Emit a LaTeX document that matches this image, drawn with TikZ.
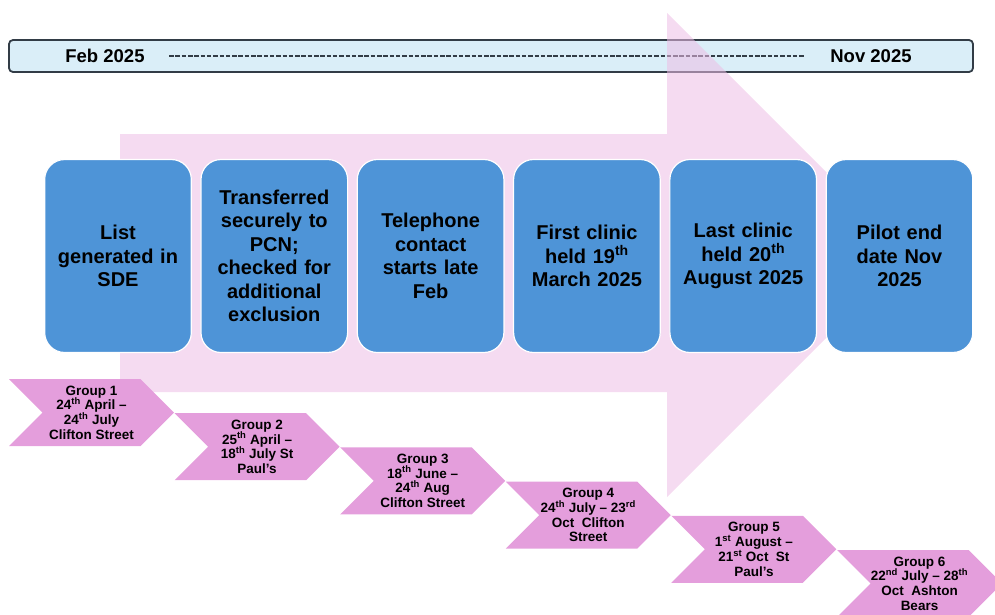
\documentclass[tikz,border=0pt]{standalone}
\usepackage{fontspec}
\setmainfont{Liberation Sans}
\usetikzlibrary{shapes.symbols}

\definecolor{barblue}{RGB}{218,238,248}
\definecolor{barline}{RGB}{50,60,70}
\definecolor{arrowpink}{RGB}{237,189,229}
\definecolor{stepblue}{RGB}{78,148,215}
\definecolor{grouppink}{RGB}{228,158,220}

\newcommand{\ordsup}[1]{\smash{\textsuperscript{#1}}}

\begin{document}
\begin{tikzpicture}[x=1pt,y=-1pt,
    stepbox/.style={fill=stepblue, draw=white, line width=1.2pt, rounded corners=20pt,
      minimum width=146pt, minimum height=193pt, text width=140pt, align=center,
      font=\fontsize{20}{23.5}\selectfont\bfseries},
    groupbox/.style={signal, signal from=west, signal to=east, signal pointer angle=90,
      fill=grouppink, minimum width=165pt, minimum height=67pt, inner sep=0pt,
      align=center, font=\fontsize{13.5}{14.7}\selectfont\bfseries},
    datetext/.style={font=\fontsize{18.5}{20}\selectfont\bfseries}]
        \useasboundingbox (0,0) rectangle (995,614);
        \clip (0,0) rectangle (995,614);
        % timeline bar
        \draw[barline, fill=barblue, line width=1.8pt, rounded corners=4pt] (9,40) rectangle (973,72);
        \node[datetext](feb) at (105,56) {Feb 2025};
        \node[datetext](nov) at (871,56) {Nov 2025};
        \draw[barline, line width=2.6pt, dash pattern=on 4.5pt off 1.8pt, shorten <=21pt, shorten >=22pt](feb.east)--(nov.west);
        % big arrow
        \fill[arrowpink, fill opacity=0.55] (120,134) -- (667,134) -- (667,13) -- (909,255)
            -- (667,497) -- (667,392) -- (120,392) -- cycle;
        % steps
        \node[stepbox](list) at (118,256) {List\\generated in\\SDE};
        \node[stepbox](transfer) at (274.3,256) {Transferred\\securely to\\PCN;\\checked for\\additional\\exclusion};
        \node[stepbox](phone) at (430.6,256) {Telephone\\contact\\starts late\\Feb};
        \node[stepbox](first) at (586.9,256) {First clinic\\held 19\ordsup{th}\\March 2025};
        \node[stepbox](last) at (743.2,256) {Last clinic\\held 20\ordsup{th}\\August 2025};
        \node[stepbox](pilot) at (899.5,256) {Pilot end\\date Nov\\2025};
        % groups
        \node[groupbox](g1) at (91.5,412.5) {Group 1\\24\ordsup{th} April –\\24\ordsup{th} July\\Clifton Street};
        \node[groupbox](g2) at (257.1,446.7) {Group 2\\25\ordsup{th} April –\\18\ordsup{th} July St\\Paul’s};
        \node[groupbox](g3) at (422.7,480.9) {Group 3\\18\ordsup{th} June –\\24\ordsup{th} Aug\\Clifton Street};
        \node[groupbox](g4) at (588.3,515.1) {Group 4\\24\ordsup{th} July – 23\ordsup{rd}\\Oct\ \ Clifton\\Street};
        \node[groupbox](g5) at (753.9,549.3) {Group 5\\1\ordsup{st} August –\\21\ordsup{st} Oct\ \ St\\Paul’s};
        \node[groupbox](g6) at (919.5,583.5) {Group 6\\22\ordsup{nd} July – 28\ordsup{th}\\Oct\ \ Ashton\\Bears};
        \end{tikzpicture}
\end{document}
